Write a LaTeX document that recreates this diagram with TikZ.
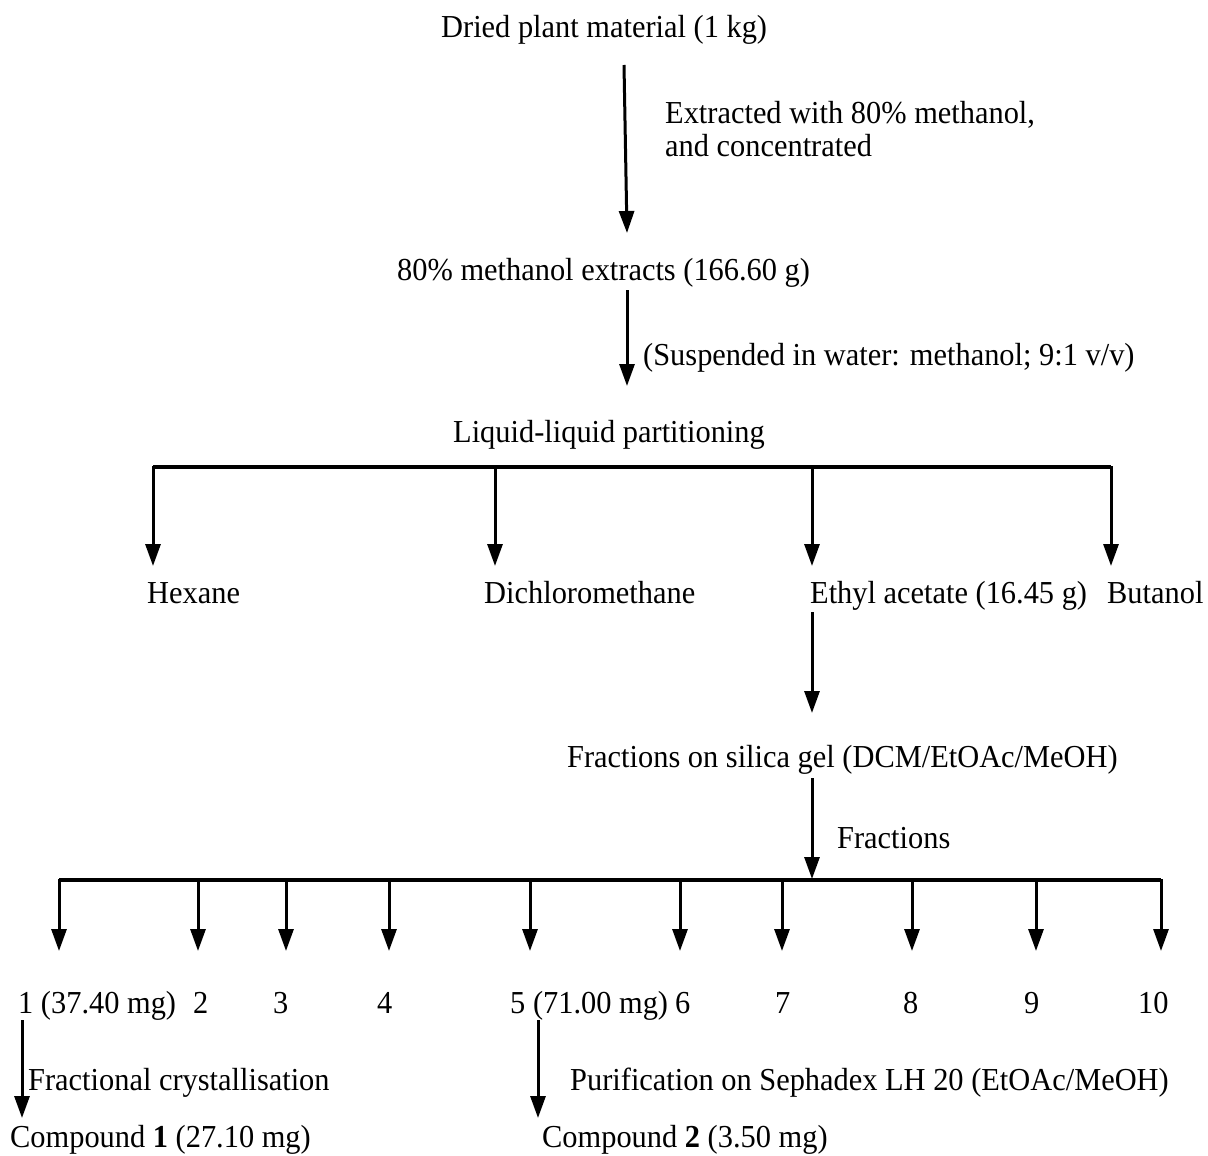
\documentclass[tikz,border=0pt]{standalone}
\usepackage{fontspec}
\setmainfont{Liberation Serif}[FakeStretch=0.95]
\usetikzlibrary{arrows.meta}
\begin{document}
\begin{tikzpicture}[x=1pt,y=-1pt,
  txt/.style={anchor=base west,inner sep=0pt,font=\fontsize{32}{38}\selectfont},
  arr/.style={line width=3pt,-{Triangle[length=22pt,width=15pt]}},
  barline/.style={line width=3.5pt}]
\useasboundingbox (0,0) rectangle (1208,1156);
% texts
\node[txt] (dried) at (441,38) {Dried plant material (1 kg)};
\node[txt] (ext) at (665,123) {Extracted with 80\% methanol,};
\node[txt] (conc) at (665,156) {and concentrated};
\node[txt] (meth) at (397,280) {80\% methanol extracts (166.60 g)};
\node[txt] (susp) at (643,365) {(Suspended in water: methanol; 9:1 v/v)};
\node[txt] (liq) at (453,442) {Liquid-liquid partitioning};
\node[txt] (hex) at (147,603) {Hexane};
\node[txt] (dcm) at (484,603) {Dichloromethane};
\node[txt] (etoac) at (810,603) {Ethyl acetate (16.45 g)};
\node[txt] (buoh) at (1107,603) {Butanol};
\node[txt] (silica) at (567,767) {Fractions on silica gel (DCM/EtOAc/MeOH)};
\node[txt] (frlab) at (837,848) {Fractions};
\node[txt] (f1) at (18,1013) {1 (37.40 mg)};
\node[txt] (f2) at (193,1013) {2};
\node[txt] (f3) at (273,1013) {3};
\node[txt] (f4) at (377,1013) {4};
\node[txt] (f5) at (510,1013) {5 (71.00 mg)};
\node[txt] (f6) at (675,1013) {6};
\node[txt] (f7) at (775,1013) {7};
\node[txt] (f8) at (903,1013) {8};
\node[txt] (f9) at (1024,1013) {9};
\node[txt] (f10) at (1138,1013) {10};
\node[txt] (cryst) at (28,1090) {Fractional crystallisation};
\node[txt] (seph) at (570,1090) {Purification on Sephadex LH 20 (EtOAc/MeOH)};
\node[txt] (c1) at (10,1147) {Compound \textbf{1} (27.10 mg)};
\node[txt] (c2) at (542,1147) {Compound \textbf{2} (3.50 mg)};
% coordinates
\coordinate (a1s) at (624,65);  \coordinate (a1e) at (627,233);
\coordinate (a2s) at (627,290); \coordinate (a2e) at (627,386);
\coordinate (b1l) at (153,467); \coordinate (b1r) at (1111,467);
\coordinate (a3s) at (812,612); \coordinate (a3e) at (812,713);
\coordinate (a4s) at (812,778); \coordinate (a4e) at (812,879);
\coordinate (b2l) at (59,880);  \coordinate (b2r) at (1161,880);
\coordinate (a5s) at (22,1020); \coordinate (a5e) at (22,1118);
\coordinate (a6s) at (538,1020);\coordinate (a6e) at (538,1118);
% connectors
\draw[arr] (a1s) -- (a1e);
\draw[arr] (a2s) -- (a2e);
\draw[barline] (b1l) -- (b1r);
\foreach \x in {153,495,812,1111}{
  \draw[arr] (\x,466) -- (\x,566);
}
\draw[arr] (a3s) -- (a3e);
\draw[arr] (a4s) -- (a4e);
\draw[barline] (b2l) -- (b2r);
\foreach \x in {59,198,286,389,530,680,782,912,1036,1161}{
  \draw[arr] (\x,879) -- (\x,951);
}
\draw[arr] (a5s) -- (a5e);
\draw[arr] (a6s) -- (a6e);
\end{tikzpicture}
\end{document}
